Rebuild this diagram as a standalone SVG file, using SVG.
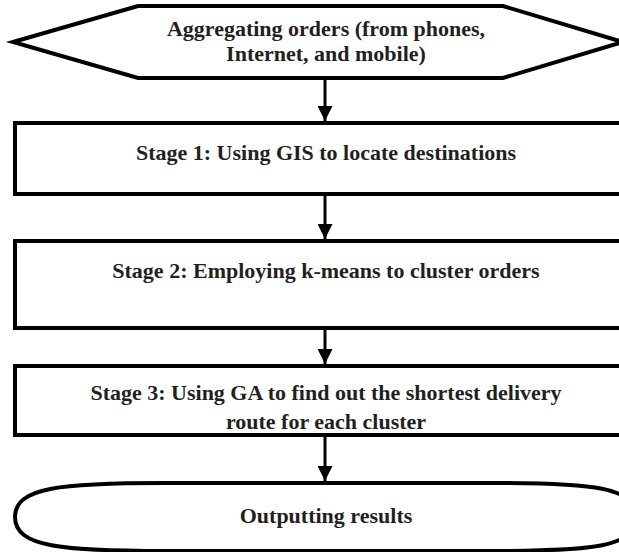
<svg xmlns="http://www.w3.org/2000/svg" width="619" height="552" viewBox="0 0 619 552">
<style>
.shape{fill:#fff;stroke:#000;stroke-width:4;stroke-linejoin:miter}
.edge{fill:none;stroke:#000;stroke-width:4}
.lbl{font-family:"Liberation Serif","Times New Roman",serif;font-weight:bold;font-size:22px;fill:#231f20;text-anchor:middle}
.conn{stroke:#000;stroke-width:3;fill:none}
</style>
<defs>
<marker id="ah" viewBox="0 0 10 10" refX="10" refY="5" markerWidth="5" markerHeight="5" markerUnits="strokeWidth" orient="auto">
<path d="M0,0 L10,5 L0,10 Z" fill="#000"/>
</marker>
</defs>
<rect width="619" height="552" fill="#fff"/>
<g id="start">
<polygon class="shape" points="13,42 138,6 503,6 623,42 503,78 138,78"/>
<text class="lbl" x="326" y="36">Aggregating orders (from phones,</text>
<text class="lbl" x="326" y="61">Internet, and mobile)</text>
</g>
<g id="stage1">
<rect class="shape" x="15" y="123" width="615" height="71"/>
<text class="lbl" x="326" y="160">Stage 1: Using GIS to locate destinations</text>
</g>
<g id="stage2">
<rect class="shape" x="15" y="241" width="615" height="87"/>
<text class="lbl" x="326" y="278">Stage 2: Employing k-means to cluster orders</text>
</g>
<g id="stage3">
<rect class="shape" x="15" y="366" width="615" height="69"/>
<text class="lbl" x="326" y="400">Stage 3: Using GA to find out the shortest delivery</text>
<text class="lbl" x="326" y="429">route for each cluster</text>
<line class="edge" x1="13" y1="435" x2="632" y2="435"/>
</g>
<g id="output">
<path class="shape" d="M15,517 C15,487 62,483 165,483 L490,483 C594,483 636,487 636,517 C636,547 594,551 490,551 L165,551 C62,551 15,547 15,517 Z"/>
<text class="lbl" x="326" y="523">Outputting results</text>
</g>
<g id="connectors">
<line class="conn" x1="325" y1="80" x2="325" y2="121" marker-end="url(#ah)"/>
<line class="conn" x1="325" y1="196" x2="325" y2="239" marker-end="url(#ah)"/>
<line class="conn" x1="325" y1="330" x2="325" y2="364" marker-end="url(#ah)"/>
<line class="conn" x1="325" y1="437" x2="325" y2="481" marker-end="url(#ah)"/>
</g>
</svg>
